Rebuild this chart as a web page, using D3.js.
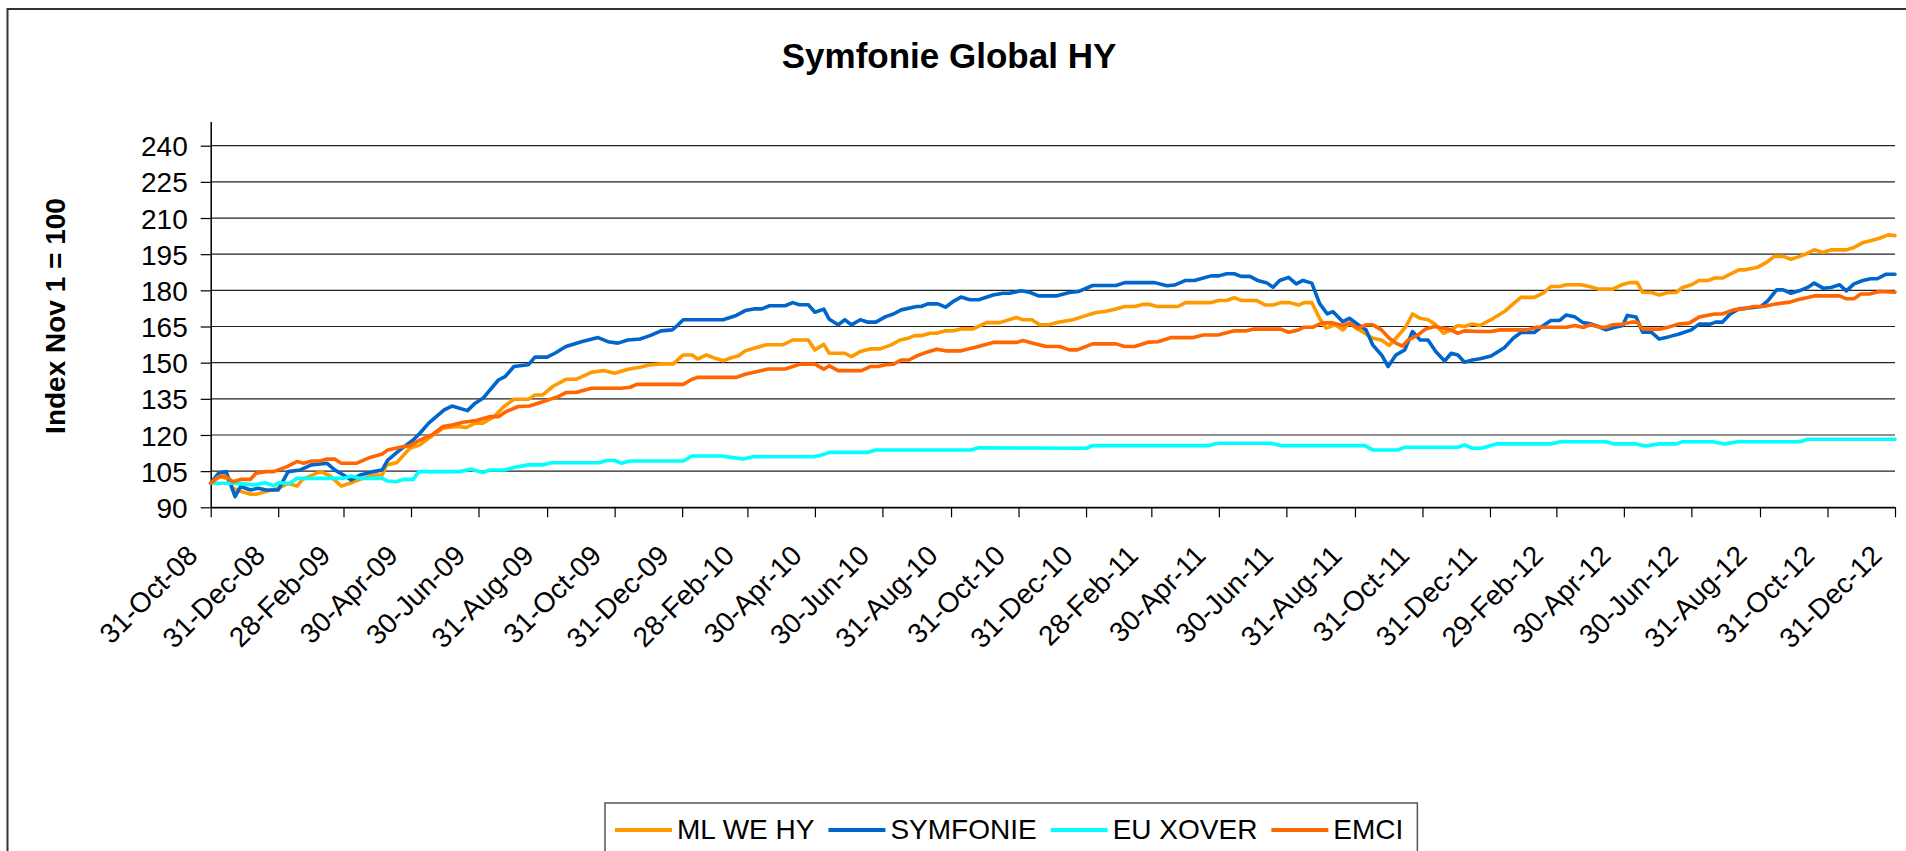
<!DOCTYPE html>
<html>
<head>
<meta charset="utf-8">
<script src="https://cdn.jsdelivr.net/npm/d3@7"></script>
<style>
html, body { margin: 0; padding: 0; background: #fff; overflow: hidden; }
svg { display: block; font-family: "Liberation Sans", Arial, sans-serif; }
</style>
</head>
<body>
<svg id="chart" width="1906" height="851"></svg>
<script>
// weekly index series, [weeks since 31-Oct-08, index value]
const mlWeHy = [[0,100],[1.2,102.7],[2.1,102.0],[2.9,97.9],[4.0,96.5],[5.1,95.4],[5.9,95.4],[7.2,96.5],[8.7,97.9],[10.0,99.9],[11.1,98.8],[11.9,101.6],[14.1,104.8],[15.4,103.0],[16.9,98.8],[18.2,100.2],[19.3,101.6],[21.0,103.4],[22.1,103.4],[22.7,107.6],[24.0,108.5],[25.7,114.5],[27.0,115.9],[28.7,120.0],[30.0,122.8],[31.7,123.5],[33.0,123.1],[34.1,124.9],[35.2,124.9],[36.5,127.6],[37.8,131.8],[39.1,134.8],[41.0,134.8],[41.8,136.6],[42.9,136.6],[44.2,140.1],[45.9,143.1],[47.2,143.1],[49.2,146.0],[50.7,146.7],[52.2,145.6],[53.9,147.3],[55.4,148.1],[56.7,149.1],[58.2,149.5],[59.7,149.5],[61.0,153.2],[62.1,153.2],[62.9,151.5],[64.0,153.2],[65.1,151.8],[66.2,150.8],[67.0,151.8],[68.1,152.9],[69.0,154.9],[70.2,156.0],[71.7,157.4],[73.9,157.4],[75.2,159.4],[77.1,159.4],[78.0,155.3],[79.1,157.6],[79.9,153.9],[81.9,153.9],[82.7,152.5],[83.8,154.6],[85.1,155.7],[86.4,155.7],[87.9,157.4],[89.0,159.4],[90.0,160.1],[90.9,161.2],[91.7,161.2],[92.8,162.2],[93.7,162.2],[94.8,163.2],[96.0,163.3],[96.9,164.0],[98.4,164.0],[100.1,166.6],[101.9,166.6],[104.0,168.7],[104.9,167.8],[106.0,167.8],[107.0,165.7],[108.1,165.7],[109.4,166.8],[111.3,167.8],[112.8,169.4],[114.3,170.8],[115.4,171.2],[116.7,172.2],[118.0,173.3],[119.3,173.3],[120.4,174.2],[121.2,174.2],[122.1,173.3],[124.9,173.3],[125.9,174.9],[129.0,174.9],[130.2,175.8],[131.1,175.8],[132.2,177.0],[133.0,175.8],[135.0,175.8],[136.1,173.9],[137.1,173.9],[138.2,174.9],[139.3,174.9],[140.4,173.9],[141.2,174.9],[142.1,174.9],[143.1,168.4],[144.0,164.3],[145.1,165.7],[146.2,163.6],[147.0,166.4],[147.9,164.3],[149.0,162.2],[150.0,160.1],[151.1,159.4],[152.2,157.1],[153.5,162.2],[154.3,165.0],[155.2,170.2],[156.1,168.4],[157.1,167.8],[158.0,166.1],[159.1,162.2],[160.1,163.6],[161.0,165.4],[161.9,165.0],[162.9,166.0],[163.8,165.4],[165.5,168.4],[167.0,171.2],[168.1,174.4],[169.2,177.1],[170.9,177.1],[172.0,178.8],[173.0,181.6],[174.1,181.6],[175.0,182.3],[176.9,182.3],[178.0,181.6],[179.1,180.5],[181.0,180.5],[182.1,182.3],[183.2,183.2],[184.2,183.2],[184.9,179.2],[186.0,179.1],[187.0,178.1],[188.1,179.1],[189.2,179.1],[190.0,181.2],[191.1,182.3],[192.2,184.1],[193.3,184.1],[194.1,185.1],[195.2,185.1],[196.3,186.9],[197.3,188.5],[198.2,188.5],[199.7,189.6],[200.8,191.6],[201.9,194.1],[203.0,194.1],[204.0,192.9],[205.1,194.1],[206.2,195.4],[207.0,196.8],[208.1,195.7],[209.2,196.8],[211.1,196.8],[212.2,197.8],[213.3,199.8],[214.3,200.6],[215.4,201.6],[216.5,203.0],[217.4,202.7]];

const symfonie = [[0,100],[1.0,104.1],[2.0,104.8],[3.1,94.4],[3.8,98.6],[5.1,97.2],[6.2,97.9],[7.2,97.2],[8.7,97.2],[10.0,104.8],[11.5,105.5],[13.0,107.6],[15.0,108.3],[16.0,105.5],[17.1,103.4],[18.2,101.3],[19.3,103.4],[21.0,104.8],[22.1,105.5],[22.9,109.6],[24.4,113.8],[26.2,117.9],[27.0,120.7],[28.1,124.9],[30.2,130.4],[31.1,132.0],[33.2,130.1],[34.1,133.2],[35.2,135.2],[37.1,142.8],[38.0,144.2],[39.1,148.4],[41.0,149.1],[41.8,152.3],[43.4,152.3],[44.4,153.9],[45.9,156.7],[47.9,158.7],[50.0,160.4],[51.3,158.7],[52.6,158.1],[53.9,159.4],[55.4,159.8],[56.7,161.2],[58.2,163.2],[59.5,163.6],[59.9,164.3],[61.0,167.8],[66.2,167.8],[67.9,169.6],[69.0,171.6],[70.2,172.3],[71.1,172.3],[72.2,173.6],[74.1,173.6],[75.2,174.9],[76.0,174.0],[77.1,174.0],[78.0,170.9],[79.1,172.2],[79.9,168.0],[81.0,165.7],[81.9,167.8],[82.7,165.7],[83.8,167.8],[84.9,166.8],[85.9,166.8],[87.2,169.1],[88.1,170.2],[89.2,171.9],[91.1,173.3],[91.7,173.3],[92.6,174.4],[93.9,174.4],[94.8,173.0],[95.8,175.4],[96.9,177.2],[98.0,176.1],[99.1,176.1],[101.0,178.1],[102.3,178.8],[103.2,178.8],[104.6,179.8],[105.7,179.2],[106.8,177.7],[109.2,177.7],[110.9,179.1],[112.0,179.5],[113.9,182.0],[116.9,182.0],[118.0,183.2],[121.9,183.2],[123.4,181.9],[124.4,182.2],[125.9,184.1],[127.0,184.1],[128.1,185.1],[129.2,186.0],[130.2,186.0],[131.1,186.9],[132.2,186.9],[133.0,185.8],[134.1,185.8],[135.2,184.1],[136.3,183.2],[137.1,181.3],[138.0,184.1],[139.1,185.4],[140.1,182.7],[141.0,184.1],[142.1,183.0],[143.1,174.6],[144.2,170.2],[144.9,171.2],[146.2,167.0],[147.0,168.4],[148.1,165.7],[149.2,163.6],[150.0,157.4],[151.1,153.2],[152.0,148.4],[153.0,153.2],[154.1,155.3],[155.2,162.9],[156.1,159.4],[157.1,159.4],[158.2,154.6],[159.3,150.7],[160.1,153.9],[161.0,153.2],[161.9,150.2],[162.9,151.1],[163.8,151.6],[165.3,152.8],[167.0,156.2],[168.1,160.1],[169.2,162.5],[170.9,162.5],[171.8,165.0],[173.0,167.5],[174.1,167.5],[175.0,169.8],[176.1,168.9],[177.1,166.6],[178.2,166.1],[179.1,165.0],[180.1,163.6],[181.2,164.6],[182.3,165.4],[182.9,169.6],[184.0,168.9],[184.9,162.6],[186.0,162.6],[187.0,159.8],[188.3,160.8],[189.6,161.9],[191.1,163.6],[192.2,166.0],[193.5,166.0],[194.3,166.8],[195.2,166.8],[196.1,170.2],[197.3,172.3],[198.9,172.8],[200.1,173.3],[201.0,175.6],[202.1,180.2],[203.0,180.2],[204.0,178.8],[205.1,179.9],[206.2,181.2],[207.0,183.0],[208.1,180.9],[209.2,181.2],[210.3,182.3],[211.1,179.8],[212.2,182.7],[213.3,184.1],[214.3,184.8],[215.2,184.8],[216.3,186.7],[217.4,186.7]];

const euXover = [[0,100],[2.9,100],[4.2,99.7],[5.5,99.3],[7.0,100.2],[8.1,99.0],[8.9,100.2],[10.2,99.9],[11.1,102.0],[17.1,102.0],[18.2,103.0],[19.3,102.0],[22.1,102.0],[22.9,100.9],[24.0,100.6],[24.9,101.6],[26.2,101.6],[26.8,104.8],[32.2,104.8],[33.5,105.8],[35.2,104.4],[36.0,105.5],[38.0,105.5],[39.3,106.6],[41.0,107.6],[42.9,107.6],[44.0,108.5],[50.2,108.5],[51.1,109.4],[52.2,109.4],[53.0,108.3],[54.1,109.2],[61.0,109.2],[62.1,111.3],[65.9,111.3],[67.4,110.6],[68.7,110.0],[70.0,111.0],[77.8,111.0],[78.8,111.7],[79.9,112.8],[84.9,112.8],[85.9,113.8],[98.2,113.8],[99.1,114.7],[113.0,114.5],[113.9,115.6],[128.9,115.6],[130.0,116.6],[136.9,116.6],[138.2,115.6],[149.0,115.6],[150.0,113.8],[153.3,113.8],[154.1,114.9],[161.0,114.9],[161.9,115.9],[162.9,114.5],[164.0,114.5],[166.0,116.3],[172.8,116.3],[174.3,117.2],[180.1,117.2],[181.2,116.3],[184.0,116.3],[185.3,115.4],[187.0,116.3],[189.2,116.3],[190.0,117.2],[193.9,117.2],[195.4,116.3],[197.1,117.2],[205.1,117.2],[206.2,118.2],[217.4,118.2]];

const emci = [[0,100],[1.0,102.7],[1.8,103.0],[2.9,100.6],[4.0,101.6],[5.1,101.6],[5.9,104.1],[7.2,104.8],[8.1,104.8],[9.8,106.9],[11.1,109.0],[12.0,108.3],[13.0,109.2],[14.1,109.2],[15.0,110.0],[16.0,110.0],[16.9,108.3],[18.8,108.3],[20.6,110.7],[22.1,112.1],[22.9,113.8],[24.4,114.9],[25.7,115.5],[27.0,117.9],[28.7,120.4],[30.0,123.5],[31.3,124.2],[32.6,125.3],[34.3,126.0],[36.0,127.6],[37.1,127.6],[38.2,129.7],[39.7,131.8],[41.2,132.0],[42.9,133.8],[44.9,135.9],[45.9,137.6],[47.2,137.6],[49.2,139.4],[51.1,139.4],[53.0,139.4],[54.1,139.8],[55.0,141.0],[61.0,141.0],[62.1,143.1],[62.9,143.9],[67.9,143.9],[69.0,145.2],[70.5,146.3],[72.0,147.4],[74.1,147.4],[75.2,148.4],[76.1,149.4],[78.0,149.4],[79.1,147.3],[79.9,148.7],[81.0,146.7],[84.0,146.7],[85.1,148.4],[86.2,148.4],[87.2,149.1],[88.1,149.4],[89.2,151.1],[90.2,151.1],[91.1,152.8],[92.4,154.3],[93.7,155.6],[94.8,154.9],[96.9,154.9],[98.8,156.5],[101.0,158.4],[104.0,158.4],[104.9,159.2],[106.2,158.1],[107.9,156.7],[109.6,156.7],[110.9,155.3],[111.8,155.3],[113.9,157.8],[116.9,157.8],[118.0,156.7],[119.3,156.7],[121.0,158.5],[122.3,158.7],[124.0,160.4],[126.8,160.4],[128.1,161.5],[130.0,161.5],[132.2,163.2],[133.7,163.2],[134.5,163.9],[138.2,163.9],[139.1,162.6],[140.4,163.6],[141.2,164.7],[142.3,164.7],[143.4,166.4],[144.7,166.6],[146.2,165.4],[147.0,166.4],[148.1,164.3],[149.2,165.7],[150.0,165.7],[151.1,163.6],[152.2,160.1],[153.0,158.1],[153.9,156.9],[154.5,159.4],[155.8,161.5],[156.9,164.0],[158.0,165.0],[159.1,164.3],[159.9,163.9],[161.0,162.2],[161.9,163.2],[163.8,162.9],[165.3,162.9],[166.4,163.6],[170.0,163.6],[171.1,164.7],[175.0,164.7],[176.1,165.4],[177.1,164.6],[178.2,165.7],[179.3,164.7],[180.1,164.7],[181.0,165.7],[182.3,166.0],[183.4,166.8],[184.2,166.8],[184.9,163.9],[187.0,163.9],[188.1,164.7],[189.4,166.0],[190.9,166.4],[192.2,168.9],[194.1,170.2],[195.2,170.2],[196.5,171.9],[197.8,172.3],[199.1,173.3],[200.4,173.3],[202.1,174.4],[203.8,175.1],[204.9,176.1],[207.0,177.7],[210.3,177.7],[211.1,176.5],[212.2,176.5],[213.0,178.5],[214.1,178.5],[215.4,179.5],[217.4,179.2]];

const seriesNames = ["ML WE HY", "SYMFONIE", "EU XOVER", "EMCI"];
const seriesData = [mlWeHy, symfonie, euXover, emci];
const seriesColors = ["#FF9900", "#0066CC", "#00FFFF", "#FF6600"];

const xTickLabels = ["31-Oct-08","31-Dec-08","28-Feb-09","30-Apr-09","30-Jun-09","31-Aug-09","31-Oct-09","31-Dec-09","28-Feb-10","30-Apr-10","30-Jun-10","31-Aug-10","31-Oct-10","31-Dec-10","28-Feb-11","30-Apr-11","30-Jun-11","31-Aug-11","31-Oct-11","31-Dec-11","29-Feb-12","30-Apr-12","30-Jun-12","31-Aug-12","31-Oct-12","31-Dec-12"];
const yTickValues = [90,105,120,135,150,165,180,195,210,225,240];

const chartTitle = "Symfonie Global HY";
const yTitle = "Index Nov 1 = 100";

// layout
const plotLeft = 210.7, plotRight = 1895, plotTop = 121.6, plotBottom = 507.3;
const fontSize = 28;

const parseLabel = d3.timeParse("%d-%b-%y");
const fmtLabel = d3.timeFormat("%d-%b-%y");
const startDate = parseLabel(xTickLabels[0]);
const weekToDate = w => d3.timeDay.offset(startDate, Math.round(w * 7));

const svg = d3.select("#chart");

svg.append("rect")
  .attr("x", 7.5).attr("y", 9)
  .attr("width", 1960).attr("height", 900)
  .attr("fill", "#fff")
  .attr("stroke", "#333")
  .attr("stroke-width", 2);

const x = d3.scaleTime()
  .domain([startDate, parseLabel(xTickLabels[xTickLabels.length - 1])])
  .range([plotLeft, plotRight]);

const y = d3.scaleLinear()
  .domain([90, 250])
  .range([plotBottom, plotTop]);

// gridlines
svg.append("g")
  .attr("class", "grid")
  .selectAll("line")
  .data(yTickValues)
  .enter()
    .append("line")
    .attr("x1", plotLeft)
    .attr("x2", plotRight)
    .attr("y1", d => y(d))
    .attr("y2", d => y(d))
    .attr("stroke", "#222")
    .attr("stroke-width", 1.2);

// y axis
const yAxisG = svg.append("g")
  .attr("transform", "translate(" + plotLeft + ",0)")
  .call(d3.axisLeft(y).tickValues(yTickValues).tickSize(10).tickSizeOuter(0).tickPadding(13));
yAxisG.select(".domain").attr("stroke", "#000").attr("stroke-width", 1.5);
yAxisG.selectAll(".tick line").attr("stroke", "#000").attr("stroke-width", 1.2);
yAxisG.selectAll(".tick text")
  .attr("font-size", fontSize)
  .attr("font-family", "Liberation Sans, Arial, sans-serif")
  .attr("fill", "#000")
  .attr("dy", "0.36em");

// x axis
const xAxisG = svg.append("g")
  .attr("transform", "translate(0," + plotBottom + ")")
  .call(d3.axisBottom(x)
    .tickValues(xTickLabels.map(parseLabel))
    .tickSize(10)
    .tickSizeOuter(0)
    .tickFormat(fmtLabel));
xAxisG.select(".domain").attr("stroke", "#000").attr("stroke-width", 1.5);
xAxisG.selectAll(".tick line").attr("stroke", "#000").attr("stroke-width", 1.2);
xAxisG.selectAll(".tick text")
  .attr("font-size", fontSize)
  .attr("font-family", "Liberation Sans, Arial, sans-serif")
  .attr("fill", "#000")
  .attr("text-anchor", "end")
  .attr("x", 0).attr("y", 0).attr("dy", 0)
  .attr("transform", "translate(-12,50) rotate(-45)");

// series
const line = d3.line()
  .x(d => x(weekToDate(d[0])))
  .y(d => y(d[1]));

svg.append("g").selectAll("path")
  .data(seriesData)
  .enter()
    .append("path")
    .attr("d", d => line(d))
    .attr("fill", "none")
    .attr("stroke", (d, i) => seriesColors[i])
    .attr("stroke-width", 3.6)
    .attr("stroke-linejoin", "round")
    .attr("stroke-linecap", "round");

// title
svg.append("text")
  .attr("x", 949).attr("y", 68)
  .attr("text-anchor", "middle")
  .attr("font-size", 35)
  .attr("font-weight", "bold")
  .text(chartTitle);

svg.append("text")
  .attr("transform", "translate(65,316) rotate(-90)")
  .attr("text-anchor", "middle")
  .attr("font-size", fontSize)
  .attr("font-weight", "bold")
  .text(yTitle);

// legend
const legend = svg.append("g");
const legendBox = legend.append("rect")
  .attr("x", 605).attr("y", 803)
  .attr("height", 70)
  .attr("fill", "#fff")
  .attr("stroke", "#555")
  .attr("stroke-width", 1.5);

let lx = 615;
seriesNames.forEach((name, i) => {
  legend.append("line")
    .attr("x1", lx).attr("x2", lx + 57)
    .attr("y1", 830).attr("y2", 830)
    .attr("stroke", seriesColors[i])
    .attr("stroke-width", 4);
  const t = legend.append("text")
    .attr("x", lx + 62).attr("y", 839)
    .attr("font-size", fontSize)
    .text(name);
  lx += 62 + t.node().getComputedTextLength() + 14;
});
legendBox.attr("width", lx - 605);
</script>
</body>
</html>
